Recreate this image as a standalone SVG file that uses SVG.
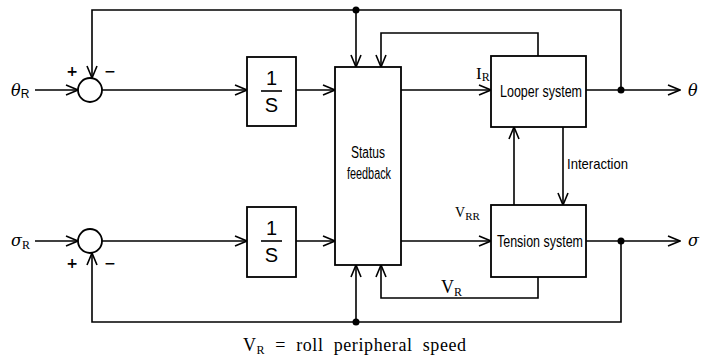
<svg xmlns="http://www.w3.org/2000/svg" width="708" height="360" viewBox="0 0 708 360">
<defs>
<marker id="arr" markerWidth="14" markerHeight="12" viewBox="0 0 14 12" refX="13" refY="6" orient="auto" markerUnits="userSpaceOnUse">
<path d="M1,1 L13,6 L1,11" fill="none" stroke="#000" stroke-width="1.6"/>
</marker>
<style>
.ln{fill:none;stroke:#000;stroke-width:1.6}
.ar{fill:none;stroke:#000;stroke-width:1.6;marker-end:url(#arr)}
.bx{fill:#fff;stroke:#000;stroke-width:1.8}
.lbl{font-family:"Liberation Sans",Arial,sans-serif;fill:#000}
.ser{font-family:"Liberation Serif",serif;fill:#000}
.it{font-family:"DejaVu Serif","Liberation Serif",serif;font-style:italic;fill:#000}
.frac{font-family:"Liberation Sans",sans-serif;font-size:20px;fill:#000;text-anchor:middle}
.sg{font-family:"DejaVu Sans",sans-serif;font-size:14px;font-weight:bold;fill:#000;text-anchor:middle}
</style>
</defs>
<rect width="708" height="360" fill="#fff"/>
<g id="connectors">
<path class="ar" d="M35,90 H78"/>
<path class="ar" d="M102,90 H247"/>
<path class="ar" d="M296,90 H335"/>
<path class="ar" d="M401,90 H491"/>
<path class="ar" d="M586,90 H680"/>
<path class="ar" d="M621,90 V10 H92 V78"/>
<path class="ar" d="M356,10 V67"/>
<path class="ar" d="M538,56 V33 H381 V67"/>
<path class="ar" d="M563,127 V205"/>
<path class="ar" d="M514,205 V127"/>
<path class="ar" d="M35,241 H78"/>
<path class="ar" d="M102,241 H247"/>
<path class="ar" d="M296,241 H335"/>
<path class="ar" d="M401,241 H491"/>
<path class="ar" d="M586,241 H680"/>
<path class="ar" d="M621,241 V322 H92 V253"/>
<path class="ar" d="M356,322 V265"/>
<path class="ar" d="M538,277 V298 H381 V265"/>
<circle cx="356" cy="10" r="3.5"/>
<circle cx="621" cy="90" r="3.5"/>
<circle cx="356" cy="322" r="3.5"/>
<circle cx="621" cy="241" r="3.5"/>
</g>
<g id="sum1">
<circle cx="90" cy="90" r="12" class="bx"/>
<text x="72" y="76" class="sg">+</text>
<text x="110" y="76" class="sg">−</text>
</g>
<g id="sum2">
<circle cx="90" cy="241" r="12" class="bx"/>
<text x="72" y="268" class="sg">+</text>
<text x="110" y="268" class="sg">−</text>
</g>
<g id="in1">
<text x="11" y="96" class="it" style="font-size:16px">θ<tspan class="lbl" style="font-style:normal;font-size:12px" dy="2">R</tspan></text>
</g>
<g id="in2">
<text x="11" y="246" class="it" style="font-size:16px">σ<tspan class="ser" style="font-style:normal;font-size:12px" dy="3">R</tspan></text>
</g>
<g id="int1">
<rect x="247" y="57" width="49" height="69" class="bx"/>
<text x="271.5" y="85" class="frac">1</text>
<path d="M261,91 H282" class="ln"/>
<text x="271.5" y="112" class="frac">S</text>
</g>
<g id="int2">
<rect x="247" y="207" width="49" height="70" class="bx"/>
<text x="271.5" y="235" class="frac">1</text>
<path d="M261,241 H282" class="ln"/>
<text x="271.5" y="262" class="frac">S</text>
</g>
<g id="status">
<rect x="335" y="67" width="66" height="198" class="bx"/>
<text x="351" y="158" class="lbl" style="font-size:16px" textLength="34" lengthAdjust="spacingAndGlyphs">Status</text>
<text x="347" y="179" class="lbl" style="font-size:16px" textLength="44" lengthAdjust="spacingAndGlyphs">feedback</text>
</g>
<g id="looper">
<rect x="491" y="56" width="95" height="71" class="bx"/>
<text x="500" y="97" class="lbl" style="font-size:17px" textLength="82" lengthAdjust="spacingAndGlyphs">Looper system</text>
</g>
<g id="tension">
<rect x="491" y="205" width="95" height="72" class="bx"/>
<text x="497" y="247" class="lbl" style="font-size:17px" textLength="86" lengthAdjust="spacingAndGlyphs">Tension system</text>
</g>
<g id="labels">
<text x="476" y="79" class="ser" style="font-size:17px">I<tspan style="font-size:12px" dy="2">R</tspan></text>
<text x="567" y="169" class="lbl" style="font-size:15px" textLength="61" lengthAdjust="spacingAndGlyphs">Interaction</text>
<text x="455" y="217" class="ser" style="font-size:14px">V<tspan style="font-size:11px" dy="3">RR</tspan></text>
<text x="441" y="293" class="ser" style="font-size:18px">V<tspan style="font-size:12px" dy="3">R</tspan></text>
<text x="688" y="96" class="it" style="font-size:16px">θ</text>
<text x="688" y="246" class="it" style="font-size:16px">σ</text>
<text x="243" y="351" class="ser" style="font-size:18px;letter-spacing:0.6px;word-spacing:5px">V<tspan style="font-size:12px" dy="3">R</tspan><tspan dy="-3"> = roll peripheral speed</tspan></text>
</g>
</svg>
